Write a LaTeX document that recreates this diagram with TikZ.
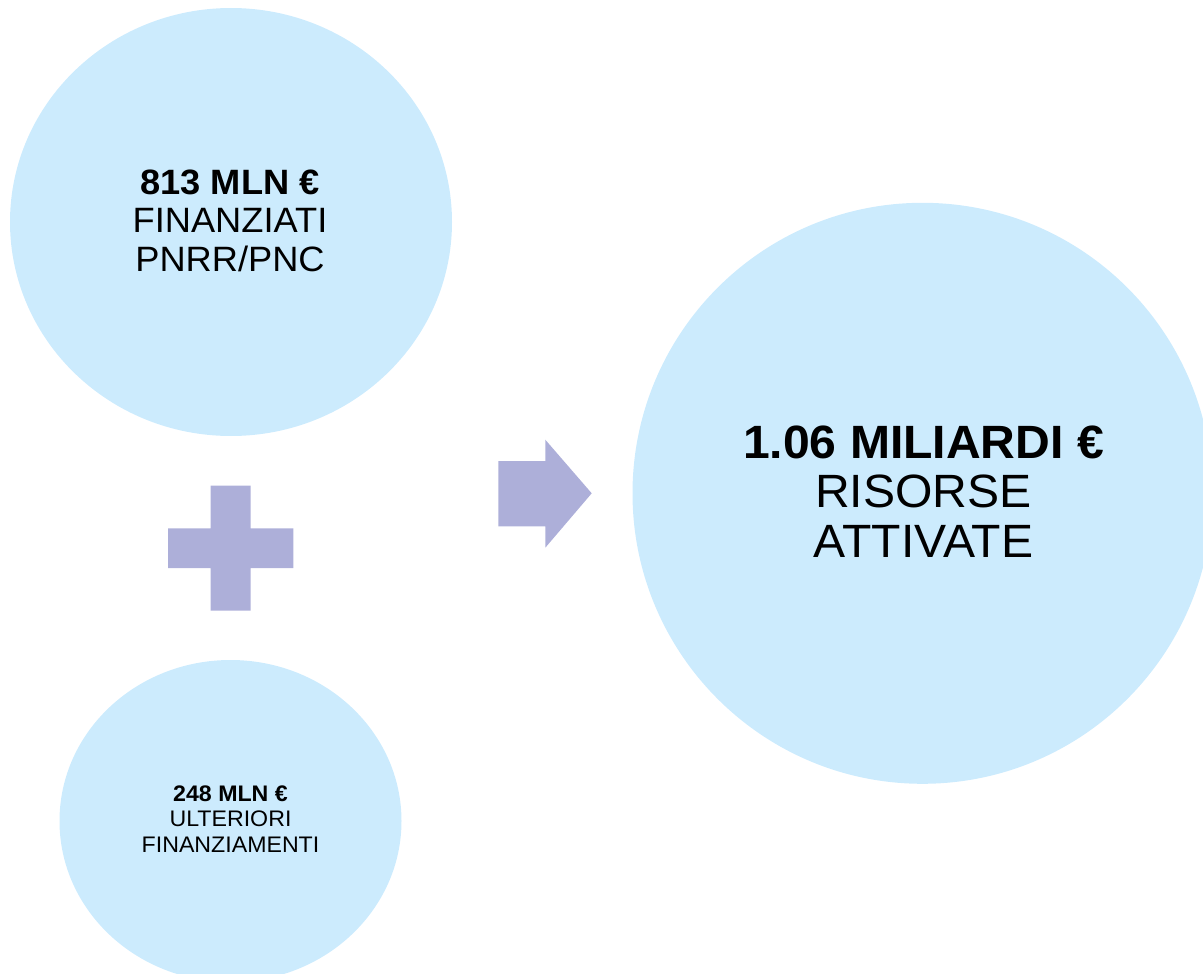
\documentclass[tikz,border=0pt]{standalone}
\usepackage{fontspec}
\setmainfont{Liberation Sans}
\usetikzlibrary{shapes.geometric}
\definecolor{bubblefill}{RGB}{204,235,253}
\definecolor{symfill}{RGB}{173,175,217}
\newcommand\hsc[1]{\scalebox{1.03}[1]{#1}}
\begin{document}
\begin{tikzpicture}[x=1pt,y=-1pt,
  bubble/.style={ellipse, fill=bubblefill, draw=none, inner sep=0pt},
  symbol/.style={fill=symfill, draw=none},
  txt/.style={anchor=base, inner sep=0pt, text=black},
  bigtxt/.style={txt, font=\fontsize{46.7}{50}\selectfont},
  midtxt/.style={txt, font=\fontsize{35.2}{38}\selectfont},
  smalltxt/.style={txt, font=\fontsize{22.5}{25}\selectfont}]
\useasboundingbox (0,0) rectangle (1203,974);
% bubbles
\node[bubble, minimum width=442pt, minimum height=428pt] (pnrr) at (231,222) {};
\node[bubble, minimum width=342pt, minimum height=322pt] (ulteriori) at (230.5,821) {};
\node[bubble, minimum width=580pt, minimum height=581pt] (risorse) at (922.5,493.3) {};
% plus sign
\fill[symbol] (210.7,485.7) -- (250.7,485.7) -- (250.7,528.3) -- (293.3,528.3)
  -- (293.3,568) -- (250.7,568) -- (250.7,610.7) -- (210.7,610.7)
  -- (210.7,568) -- (168,568) -- (168,528.3) -- (210.7,528.3) -- cycle;
% arrow
\fill[symbol] (498.3,461) -- (545.3,461) -- (545.3,439.7) -- (591.7,493.3)
  -- (545.3,547.7) -- (545.3,526.3) -- (498.3,526.3) -- cycle;
% texts top bubble
\node[midtxt] (pnrr1) at (230,194.8) {\hsc{\textbf{813 MLN €}}};
\node[midtxt] (pnrr2) at (230,232.9) {\hsc{FINANZIATI}};
\node[midtxt] (pnrr3) at (230,271) {\hsc{PNRR/PNC}};
% texts right bubble
\node[bigtxt] (ris1) at (923.5,458) {\hsc{\textbf{1.06 MILIARDI €}}};
\node[bigtxt] (ris2) at (923.5,507.5) {\hsc{RISORSE}};
\node[bigtxt] (ris3) at (923.5,557) {\hsc{ATTIVATE}};
% texts bottom bubble
\node[smalltxt] (ult1) at (230.5,801.5) {\hsc{\textbf{248 MLN €}}};
\node[smalltxt] (ult2) at (230.5,826.5) {\hsc{ULTERIORI}};
\node[smalltxt] (ult3) at (230.5,852) {\hsc{FINANZIAMENTI}};
\end{tikzpicture}
\end{document}
